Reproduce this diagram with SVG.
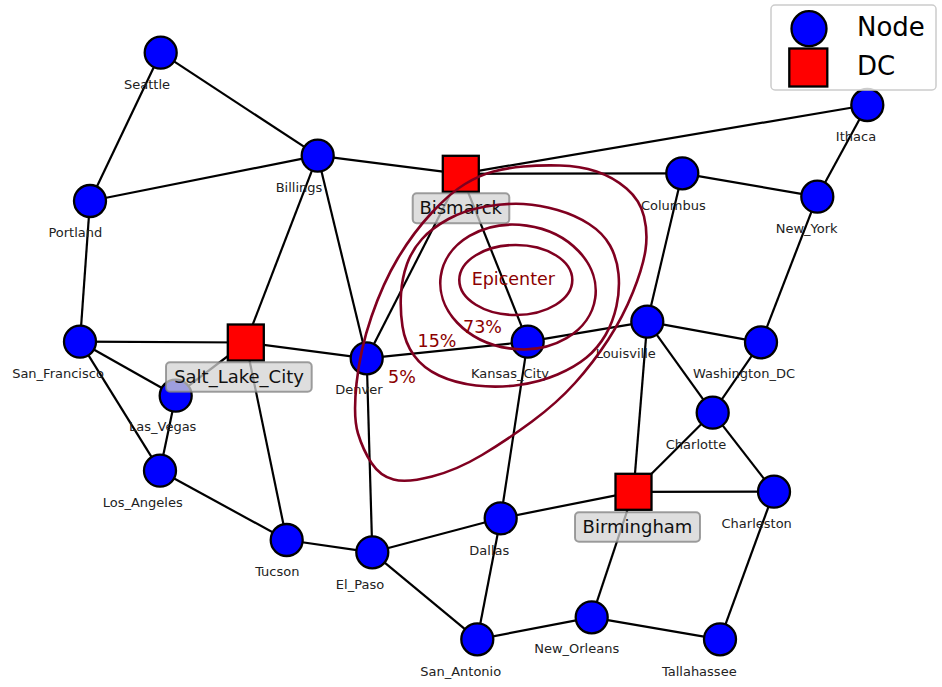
<svg xmlns="http://www.w3.org/2000/svg" width="942" height="687" viewBox="0 0 942 687">
<style>
.e{stroke:#000;stroke-width:2.2;fill:none}
.n{fill:#0000ff;stroke:#000;stroke-width:2.3}
.d{fill:#ff0000;stroke:#000;stroke-width:2.3}
.lb{font-family:"DejaVu Sans",sans-serif;font-size:13px;fill:#222;text-anchor:middle}
.bx{fill:#d3d3d3;fill-opacity:0.75;stroke:#808080;stroke-opacity:0.75;stroke-width:2}
.bt{font-family:"DejaVu Sans",sans-serif;font-size:18px;fill:#111;text-anchor:middle}
.c{fill:none;stroke:#800020;stroke-width:2.6}
.ct{font-family:"DejaVu Sans",sans-serif;font-size:17.5px;fill:#8b0000;text-anchor:middle}
.lg{font-family:"DejaVu Sans",sans-serif;font-size:26px;fill:#000}
</style>
<rect width="942" height="687" fill="#fff"/>
<g id="connectors">
<line class="e" x1="160.7" y1="52.7" x2="90" y2="201"/>
<line class="e" x1="160.7" y1="52.7" x2="317.7" y2="155.7"/>
<line class="e" x1="90" y1="201" x2="317.7" y2="155.7"/>
<line class="e" x1="90" y1="201" x2="80" y2="341.7"/>
<line class="e" x1="317.7" y1="155.7" x2="460.8" y2="173.8"/>
<line class="e" x1="317.7" y1="155.7" x2="245.8" y2="342.5"/>
<line class="e" x1="317.7" y1="155.7" x2="366.7" y2="358.3"/>
<line class="e" x1="460.8" y1="173.8" x2="867.3" y2="105"/>
<line class="e" x1="460.8" y1="173.8" x2="682.3" y2="173.3"/>
<line class="e" x1="460.8" y1="173.8" x2="366.7" y2="358.3"/>
<line class="e" x1="460.8" y1="173.8" x2="527.7" y2="341.7"/>
<line class="e" x1="682.3" y1="173.3" x2="817.3" y2="196.7"/>
<line class="e" x1="682.3" y1="173.3" x2="647.3" y2="321.7"/>
<line class="e" x1="867.3" y1="105" x2="817.3" y2="196.7"/>
<line class="e" x1="817.3" y1="196.7" x2="761" y2="342.3"/>
<line class="e" x1="80" y1="341.7" x2="245.8" y2="342.5"/>
<line class="e" x1="80" y1="341.7" x2="175.7" y2="395.7"/>
<line class="e" x1="80" y1="341.7" x2="160" y2="470.7"/>
<line class="e" x1="245.8" y1="342.5" x2="366.7" y2="358.3"/>
<line class="e" x1="245.8" y1="342.5" x2="175.7" y2="395.7"/>
<line class="e" x1="245.8" y1="342.5" x2="286.7" y2="540"/>
<line class="e" x1="366.7" y1="358.3" x2="527.7" y2="341.7"/>
<line class="e" x1="366.7" y1="358.3" x2="372.3" y2="552.3"/>
<line class="e" x1="527.7" y1="341.7" x2="647.3" y2="321.7"/>
<line class="e" x1="527.7" y1="341.7" x2="500.7" y2="518.3"/>
<line class="e" x1="647.3" y1="321.7" x2="761" y2="342.3"/>
<line class="e" x1="647.3" y1="321.7" x2="712.7" y2="412.7"/>
<line class="e" x1="647.3" y1="321.7" x2="633.5" y2="491.8"/>
<line class="e" x1="761" y1="342.3" x2="712.7" y2="412.7"/>
<line class="e" x1="712.7" y1="412.7" x2="633.5" y2="491.8"/>
<line class="e" x1="712.7" y1="412.7" x2="774" y2="491.7"/>
<line class="e" x1="175.7" y1="395.7" x2="160" y2="470.7"/>
<line class="e" x1="160" y1="470.7" x2="286.7" y2="540"/>
<line class="e" x1="286.7" y1="540" x2="372.3" y2="552.3"/>
<line class="e" x1="372.3" y1="552.3" x2="500.7" y2="518.3"/>
<line class="e" x1="372.3" y1="552.3" x2="477.3" y2="639.3"/>
<line class="e" x1="500.7" y1="518.3" x2="633.5" y2="491.8"/>
<line class="e" x1="500.7" y1="518.3" x2="477.3" y2="639.3"/>
<line class="e" x1="633.5" y1="491.8" x2="774" y2="491.7"/>
<line class="e" x1="633.5" y1="491.8" x2="591.7" y2="617.3"/>
<line class="e" x1="477.3" y1="639.3" x2="591.7" y2="617.3"/>
<line class="e" x1="591.7" y1="617.3" x2="720" y2="639.3"/>
<line class="e" x1="774" y1="491.7" x2="720" y2="639.3"/>
</g>
<g id="Seattle"><circle class="n" cx="160.7" cy="52.7" r="16"/><text class="lb" x="147" y="89">Seattle</text></g>
<g id="Portland"><circle class="n" cx="90" cy="201" r="16"/><text class="lb" x="75.3" y="237">Portland</text></g>
<g id="Billings"><circle class="n" cx="317.7" cy="155.7" r="16"/><text class="lb" x="299" y="192.3">Billings</text></g>
<g id="Columbus"><circle class="n" cx="682.3" cy="173.3" r="16"/><text class="lb" x="673.3" y="210">Columbus</text></g>
<g id="Ithaca"><circle class="n" cx="867.3" cy="105" r="16"/><text class="lb" x="856" y="141">Ithaca</text></g>
<g id="New_York"><circle class="n" cx="817.3" cy="196.7" r="16"/><text class="lb" x="806.7" y="232.7">New_York</text></g>
<g id="San_Francisco"><circle class="n" cx="80" cy="341.7" r="16"/><text class="lb" x="58" y="378">San_Francisco</text></g>
<g id="Denver"><circle class="n" cx="366.7" cy="358.3" r="16"/><text class="lb" x="359" y="394.3">Denver</text></g>
<g id="Kansas_City"><circle class="n" cx="527.7" cy="341.7" r="16"/><text class="lb" x="510" y="377.7">Kansas_City</text></g>
<g id="Louisville"><circle class="n" cx="647.3" cy="321.7" r="16"/><text class="lb" x="625.7" y="357.7">Louisville</text></g>
<g id="Washington_DC"><circle class="n" cx="761" cy="342.3" r="16"/><text class="lb" x="744" y="377.7">Washington_DC</text></g>
<g id="Las_Vegas"><circle class="n" cx="175.7" cy="395.7" r="16"/><text class="lb" x="162.7" y="431">Las_Vegas</text></g>
<g id="Charlotte"><circle class="n" cx="712.7" cy="412.7" r="16"/><text class="lb" x="696" y="449">Charlotte</text></g>
<g id="Los_Angeles"><circle class="n" cx="160" cy="470.7" r="16"/><text class="lb" x="142.7" y="506.7">Los_Angeles</text></g>
<g id="Charleston"><circle class="n" cx="774" cy="491.7" r="16"/><text class="lb" x="756.7" y="528.3">Charleston</text></g>
<g id="Tucson"><circle class="n" cx="286.7" cy="540" r="16"/><text class="lb" x="277.3" y="576">Tucson</text></g>
<g id="Dallas"><circle class="n" cx="500.7" cy="518.3" r="16"/><text class="lb" x="489.3" y="555">Dallas</text></g>
<g id="El_Paso"><circle class="n" cx="372.3" cy="552.3" r="16"/><text class="lb" x="360" y="589.3">El_Paso</text></g>
<g id="San_Antonio"><circle class="n" cx="477.3" cy="639.3" r="16"/><text class="lb" x="460.7" y="676">San_Antonio</text></g>
<g id="New_Orleans"><circle class="n" cx="591.7" cy="617.3" r="16"/><text class="lb" x="576.7" y="653.3">New_Orleans</text></g>
<g id="Tallahassee"><circle class="n" cx="720" cy="639.3" r="16"/><text class="lb" x="699.3" y="676">Tallahassee</text></g>
<g id="Bismarck"><rect class="d" x="442.8" y="155.8" width="36" height="36"/><rect class="bx" x="412.7" y="193.3" width="96.6" height="30" rx="4"/><text class="bt" x="460.7" y="214">Bismarck</text></g>
<g id="Salt_Lake_City"><rect class="d" x="227.8" y="324.5" width="36" height="36"/><rect class="bx" x="166" y="362.3" width="145.7" height="29.4" rx="4"/><text class="bt" x="239" y="382.8">Salt_Lake_City</text></g>
<g id="Birmingham"><rect class="d" x="615.5" y="473.8" width="36" height="36"/><rect class="bx" x="575" y="512.3" width="125" height="29.4" rx="4"/><text class="bt" x="637.5" y="532.8">Birmingham</text></g>
<g id="contours">
<path class="c" d="M 560,165.5 Q 580,166 596.5,171.5 Q 613,177 626.5,188.5 Q 640,200 644,216.5 Q 648,233 645.5,250 Q 643,267 633,292 Q 623,317 608,340 Q 593,363 575,383 Q 557,403 532,421.5 Q 507,440 482,455 Q 457,470 432,476.5 Q 407,483 393.5,479.5 Q 380,476 371.5,463 Q 363,450 358,433.5 Q 353,417 356.5,383.5 Q 360,350 371.5,316.5 Q 383,283 398,258 Q 413,233 431.5,213 Q 450,193 465,184 Q 480,175 493.5,171.5 Q 507,168 523.5,166.5 Q 540,165 560,165.5 Z"/>
<path class="c" d="M 523.5,204 Q 540,205 557.5,210 Q 575,215 589,224 Q 603,233 610,245.5 Q 617,258 618.5,274 Q 620,290 616.5,306 Q 613,322 605.5,335 Q 598,348 586.5,357.5 Q 575,367 557.5,374.5 Q 540,382 518.5,385 Q 497,388 476,385.5 Q 455,383 439,375.5 Q 423,368 414,355.5 Q 405,343 402.5,326.5 Q 400,310 401,294 Q 402,278 407,264 Q 412,250 422,239 Q 432,228 448.5,219 Q 465,210 486,206.5 Q 507,203 523.5,204 Z"/>
<ellipse class="c" cx="518" cy="287" rx="78" ry="62" transform="rotate(8 518 287)"/>
<ellipse class="c" cx="515.8" cy="280" rx="56.5" ry="35"/>
<text class="ct" x="513.3" y="285">Epicenter</text>
<text class="ct" x="482.5" y="333">73%</text>
<text class="ct" x="437" y="347">15%</text>
<text class="ct" x="402" y="383">5%</text>
</g>
<g id="legend">
<rect x="771" y="5" width="165" height="85" rx="4" fill="#fff" fill-opacity="0.8" stroke="#cccccc" stroke-width="1.5"/>
<circle class="n" cx="809" cy="28.7" r="17.5"/>
<rect class="d" x="789.3" y="48.5" width="38" height="38"/>
<text class="lg" x="857" y="36">Node</text>
<text class="lg" x="857" y="75">DC</text>
</g>
</svg>
